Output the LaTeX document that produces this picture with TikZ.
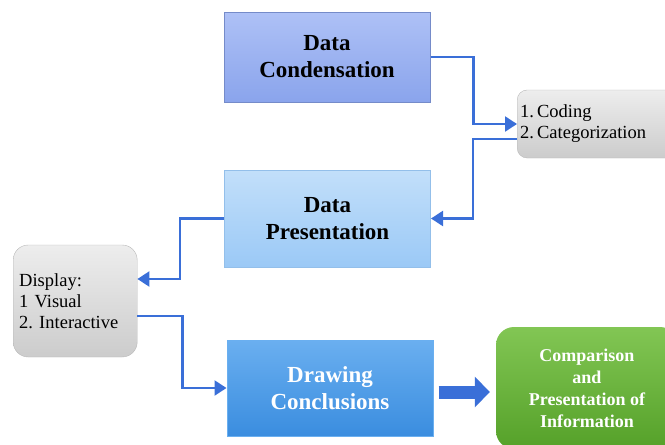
\documentclass[tikz,border=0pt]{standalone}
\usepackage{fontspec}
\setmainfont{Liberation Serif}
\usetikzlibrary{positioning,arrows.meta}
\frenchspacing

\definecolor{linkblue}{HTML}{3A6FD8}
\definecolor{condtop}{HTML}{AEC1F6}
\definecolor{condbot}{HTML}{8AA4EC}
\definecolor{prestop}{HTML}{C2DFFA}
\definecolor{presbot}{HTML}{9BC9F6}
\definecolor{conctop}{HTML}{6AAFF0}
\definecolor{concbot}{HTML}{3A8DDF}
\definecolor{comptop}{HTML}{82C654}
\definecolor{compbot}{HTML}{55A129}

\tikzset{
    stage/.style={draw, line width=1pt, minimum width=206pt, minimum height=90pt,
        align=center, font=\bfseries\fontsize{23}{27}\selectfont},
    note/.style={draw=black!28, rounded corners=#1, top color=black!7, bottom color=black!20,
        align=left, anchor=west, font=\fontsize{18.5}{21}\selectfont},
    link/.style={linkblue, line width=2.3pt, -{Triangle[length=12pt,width=15pt]}}
}

\begin{document}
\begin{tikzpicture}[x=1pt,y=-1pt]
    \useasboundingbox (0,0) rectangle (665,445);
    % boxes
    \node[stage, draw=condbot!85!black, top color=condtop, bottom color=condbot] (cond) at (327,57) {Data\\Condensation};
    \node[stage, draw=presbot!95!black, top color=prestop, bottom color=presbot, minimum height=97pt] (pres) at (327.5,218.5) {Data\\Presentation};
    \node[stage, draw=conctop, top color=conctop, bottom color=concbot, text=white, minimum height=96pt] (concl) at (330,388) {Drawing\\Conclusions};
    \node[rounded corners=18pt, top color=comptop, bottom color=compbot, text=white, minimum width=182pt, minimum height=122pt,
        align=center, font=\bfseries\fontsize{18}{22}\selectfont] (comp) at (587,388) {Comparison\\and\\Presentation of\\Information};
    \node[note=10pt, inner xsep=3pt, text width=154pt, minimum height=68pt] (code) at (517,124) {1.\,Coding\\2.\,Categorization};
    \node[note=15pt, inner xsep=6pt, text width=112pt, minimum height=112pt] (disp) at (13,301) {Display:\\1 Visual\\2. Interactive};
    % connectors
    \draw[link] (cond.east) -- ++(43,0) |- (code.west);
    \draw[link] ([yshift=-15pt]code.west) -- ++(-44,0) |- (pres.east);
    \draw[link] (pres.west) -- ++(-44,0) |- ([yshift=22pt]disp.east);
    \draw[link] ([yshift=-15pt]disp.east) -- ++(45,0) |- (concl.west);
    \draw[linkblue, line width=13pt, -{Triangle[length=15pt,width=30pt]}, shorten <=5pt, shorten >=6pt]
        ([yshift=-4pt]concl.east) -- ([yshift=-4pt]concl.east -| comp.west);
\end{tikzpicture}
\end{document}
